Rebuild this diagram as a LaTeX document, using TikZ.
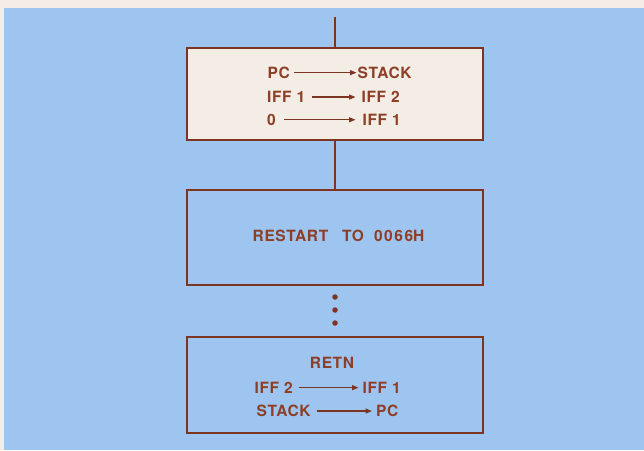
\documentclass[tikz,border=0pt]{standalone}
\usepackage{fontspec}
\setmainfont{TeX Gyre Heros}
\newfontfamily\lblfont{TeX Gyre Heros}[LetterSpace=4]
\newfontfamily\digfont{TeX Gyre Heros}[LetterSpace=10]
\usetikzlibrary{arrows.meta}
\definecolor{bg}{RGB}{158,197,240}
\definecolor{cream}{RGB}{244,237,229}
\definecolor{brn}{RGB}{125,52,32}
\definecolor{txtc}{RGB}{140,62,38}
\begin{document}
\begin{tikzpicture}[x=1pt,y=-1pt,
  box/.style={draw=brn, line width=1.8pt, minimum width=296pt, inner sep=0pt},
  conn/.style={draw=brn, line width=1.5pt},
  txt/.style={text=txtc, font=\fontsize{15.5}{18}\lblfont\bfseries, inner sep=0pt, anchor=base west},
  arr/.style={draw=brn, line width=1.2pt, -{Triangle[length=6.5pt,width=5pt]}},
  dot/.style={circle, fill=brn, minimum size=5.5pt, inner sep=0pt}]
\useasboundingbox (0,0) rectangle (644,450);
\fill[cream] (0,0) rectangle (644,450);
\fill[bg] (4,8) rectangle (644,450);
% boxes
\node[box, fill=cream, minimum height=92pt] (b1) at (335,94) {};
\node[box, minimum height=95pt] (b2) at (335,237.5) {};
\node[box, minimum height=96pt] (b3) at (335,385) {};
\coordinate (top) at (335,17);
\draw[conn] (top) -- (b1.north);
\draw[conn] (b1.south) -- (b2.north);
\node[dot] (d1) at (335,297) {};
\node[dot] (d2) at (335,310) {};
\node[dot] (d3) at (335,323) {};
% box 1 texts
\node[txt] (pc1) at (267.5,78.3) {PC};
\node[txt] (st1) at (357.5,78.3) {STACK};
\node[txt] (if1) at (267,102.7) {IFF 1};
\node[txt] (if2) at (361.5,102.7) {IFF 2};
\node[txt] (z) at (267,125.3) {0};
\node[txt] (if1b) at (362.5,125.3) {IFF 1};
\draw[arr, shorten <=4pt, shorten >=1pt] (pc1.east) -- (pc1.east -| st1.west);
\draw[arr, shorten <=7pt, shorten >=6pt] (if1.east) -- (if1.east -| if2.west);
\draw[arr, shorten <=8pt, shorten >=7pt] (z.east) -- (z.east -| if1b.west);
% box 2
\node[txt] (rs) at (252.5,241.7) {RESTART\hspace{14pt}TO\hspace{10pt}{\digfont\bfseries 0066}H};
% box 3
\node[txt, anchor=base] (retn) at (332,368.3) {RETN};
\node[txt] (if2c) at (254.5,393.3) {IFF 2};
\node[txt] (if1c) at (362.5,393.3) {IFF 1};
\node[txt] (stc) at (256.5,416.7) {STACK};
\node[txt] (pcc) at (376,416.7) {PC};
\draw[arr, shorten <=6pt, shorten >=4pt] (if2c.east) -- (if2c.east -| if1c.west);
\draw[arr, shorten <=6pt, shorten >=4pt] (stc.east) -- (stc.east -| pcc.west);
\end{tikzpicture}
\end{document}
